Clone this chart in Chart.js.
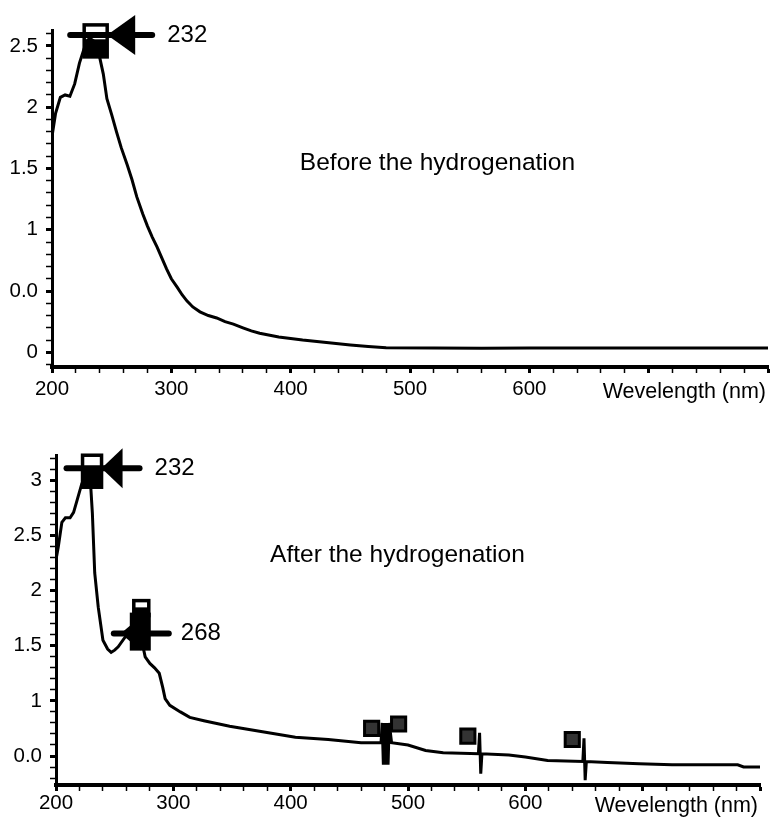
<!DOCTYPE html>
<html>
<head>
<meta charset="utf-8">
<script src="https://cdn.jsdelivr.net/npm/chart.js@4.4.1/dist/chart.umd.min.js"></script>
<style>
    html, body { margin: 0; padding: 0; background: #fff; }
    #top { position: relative; width: 773px; height: 405px; }
    #bottom { position: relative; width: 773px; height: 414px; }
</style>
</head>
<body>
<div id="top"><canvas id="beforeChart"></canvas></div>
<div id="bottom"><canvas id="afterChart"></canvas></div>
<script>
// Spectre avant l'hydrogenation (longueur d'onde en nm, absorbance)
const beforeNm  = [200, 203, 207, 211, 215, 219, 223, 227, 230, 232, 235, 239, 243, 246, 250, 254, 258, 263, 267, 271,
                   276, 280, 284, 288, 292, 296, 300, 305, 309, 313, 318, 324, 331, 338, 345, 352, 360, 367, 374, 390,
                   410, 430, 450, 465, 480, 520, 560, 600, 650, 700, 750, 800];
const beforeAbs = [1.76, 1.95, 2.08, 2.10, 2.09, 2.19, 2.36, 2.48, 2.55, 2.56, 2.54, 2.45, 2.27, 2.07, 1.94, 1.80, 1.67, 1.53, 1.41, 1.27,
                   1.13, 1.03, 0.94, 0.86, 0.77, 0.68, 0.60, 0.53, 0.47, 0.42, 0.37, 0.33, 0.30, 0.28, 0.25, 0.23, 0.20, 0.175, 0.155, 0.125,
                   0.10, 0.08, 0.06, 0.047, 0.037, 0.035, 0.033, 0.035, 0.035, 0.035, 0.035, 0.035];

// Spectre apres l'hydrogenation
const afterNm  = [200, 202, 205, 208, 212, 215, 218, 222, 226, 229, 231, 233, 236, 240, 244, 247, 250, 253, 259, 264,
                  269, 273, 276, 280, 284, 288, 291, 293, 297, 306, 314, 326, 348, 376, 404, 432, 460, 473, 477, 478,
                  479, 480, 481, 482, 483, 484, 486, 500, 515, 530, 560, 561, 562, 563, 586, 600, 619, 649, 650, 651,
                  652, 670, 697, 725, 781, 786, 800];
const afterAbs = [2.28, 2.40, 2.62, 2.66, 2.66, 2.71, 2.82, 2.97, 3.06, 3.05, 2.70, 2.16, 1.85, 1.55, 1.47, 1.44, 1.46, 1.49, 1.58, 1.63,
                  1.65, 1.55, 1.40, 1.34, 1.30, 1.25, 1.12, 1.02, 0.96, 0.90, 0.85, 0.82, 0.77, 0.72, 0.67, 0.65, 0.62, 0.62, 0.62, 0.80,
                  0.42, 0.80, 0.42, 0.80, 0.42, 0.80, 0.62, 0.60, 0.55, 0.53, 0.52, 0.71, 0.34, 0.52, 0.51, 0.49, 0.46, 0.45, 0.66, 0.28,
                  0.45, 0.44, 0.43, 0.42, 0.42, 0.40, 0.40];

// petits marqueurs parasites du spectrometre
const afterMarkNm  = [469, 492, 551, 640];
const afterMarkAbs = [0.75, 0.79, 0.68, 0.65];

// pics annotes
const beforePeakNm   = [232];
const beforePeakAbs  = [2.59];
const beforePeakText = ['232'];
const afterPeakNm    = [232, 268];
const afterPeakAbs   = [3.11, 1.61];
const afterPeakText  = ['232', '268'];

// graduations
const xTickText   = [200, 300, 400, 500, 600];
const yTickValues = [0, 0.5, 1, 1.5, 2, 2.5, 3];
const yTickText   = ['0', '0.0', '1', '1.5', '2', '2.5', '3'];

const FONT = "'Liberation Sans', Arial, Helvetica, sans-serif";
Chart.defaults.font.family = FONT;
Chart.defaults.color = '#000';

function toPoints(xs, ys) {
    return xs.map((x, i) => ({ x: x, y: ys[i] }));
}

// dessine les fleches, les boites de pic et les textes
const peakMarks = {
    id: 'peakMarks',
    afterDatasetsDraw(chart, args, opts) {
        const { ctx, chartArea } = chart;
        const x = chart.scales.x, y = chart.scales.y;
        ctx.save();
        ctx.fillStyle = '#000';
        ctx.strokeStyle = '#000';
        opts.nm.forEach((nm, i) => {
            const s = opts.shapes[i];
            const px = x.getPixelForValue(nm);
            const py = y.getPixelForValue(opts.abs[i]);
            if (s.blob) {
                ctx.fillRect(px + s.blob[0], py + s.blob[2], s.blob[1] - s.blob[0], s.blob[3] - s.blob[2]);
            }
            // boite du pic, a moitie noircie
            const bw = s.box[1] - s.box[0], bh = s.box[3] - s.box[2];
            ctx.fillRect(px + s.box[0], py + s.box[2] + bh * 0.45, bw, bh * 0.55);
            ctx.lineWidth = 3.5;
            ctx.strokeRect(px + s.box[0], py + s.box[2], bw, bh);
            ctx.lineWidth = 6;
            ctx.lineCap = 'round';
            ctx.beginPath();
            ctx.moveTo(px + s.bar[0], py);
            ctx.lineTo(px + s.bar[1], py);
            ctx.stroke();
            ctx.beginPath();
            ctx.moveTo(px + s.head[0], py);
            ctx.lineTo(px + s.head[1], py - s.head[2]);
            ctx.lineTo(px + s.head[1], py + s.head[2]);
            ctx.closePath();
            ctx.fill();
            ctx.font = '24px ' + FONT;
            ctx.textAlign = 'left';
            ctx.textBaseline = 'middle';
            ctx.fillText(opts.text[i], px + s.text, py);
        });
        // titre du spectre
        ctx.font = '24.5px ' + FONT;
        ctx.textAlign = 'center';
        ctx.fillText(opts.caption, x.getPixelForValue(opts.captionAt[0]), y.getPixelForValue(opts.captionAt[1]));
        // nom de l'axe x
        ctx.font = '21.5px ' + FONT;
        ctx.textAlign = 'right';
        ctx.fillText('Wevelength (nm)', chartArea.right - 2, chartArea.bottom + opts.axisTitleDy);
        ctx.restore();
    }
};

function makeChart(canvasId, cfg) {
    const datasets = [{
        data: toPoints(cfg.nm, cfg.abs),
        borderColor: '#000',
        borderWidth: 3,
        pointRadius: 0,
        tension: 0
    }];
    if (cfg.markNm) {
        datasets.push({
            data: toPoints(cfg.markNm, cfg.markAbs),
            showLine: false,
            pointStyle: 'rect',
            pointRadius: 10,
            borderColor: '#000',
            borderWidth: 3,
            backgroundColor: '#333'
        });
    }
    return new Chart(document.getElementById(canvasId), {
        type: 'line',
        data: { datasets: datasets },
        plugins: [peakMarks],
        options: {
            responsive: true,
            maintainAspectRatio: false,
            animation: false,
            layout: { padding: { top: cfg.padTop, right: cfg.padRight, left: 0, bottom: 0 } },
            plugins: {
                legend: { display: false },
                tooltip: { enabled: false },
                peakMarks: {
                    nm: cfg.peakNm, abs: cfg.peakAbs, text: cfg.peakText, shapes: cfg.shapes,
                    caption: cfg.caption, captionAt: cfg.captionAt, axisTitleDy: cfg.axisTitleDy
                }
            },
            scales: {
                x: {
                    type: 'linear',
                    min: 200,
                    max: 800,
                    afterFit: s => { s.height = cfg.xHeight; },
                    border: { color: '#000', width: 4 },
                    grid: {
                        drawOnChartArea: false,
                        tickLength: 6,
                        tickColor: '#000',
                        tickWidth: c => (c.tick && c.tick.value % 100 === 0) ? 3 : 1.5
                    },
                    ticks: {
                        stepSize: 20,
                        autoSkip: false,
                        maxRotation: 0,
                        padding: cfg.xPad,
                        font: { size: 20.5 },
                        callback: v => xTickText.includes(v) ? String(v) : ''
                    }
                },
                y: {
                    min: cfg.yMin,
                    max: cfg.yMax,
                    afterFit: s => { s.width = cfg.yWidth; },
                    border: { color: '#000', width: 3 },
                    grid: {
                        drawOnChartArea: false,
                        tickLength: 6,
                        tickColor: '#000',
                        tickWidth: c => (c.tick && Math.round(c.tick.value * 10) % 5 === 0) ? 3 : 1.5
                    },
                    ticks: {
                        stepSize: 0.1,
                        includeBounds: false,
                        autoSkip: false,
                        padding: 8,
                        font: { size: 20.5 },
                        callback: v => {
                            const k = yTickValues.findIndex(t => Math.abs(t - v) < 1e-6);
                            return k >= 0 ? yTickText[k] : '';
                        }
                    }
                }
            }
        }
    });
}

makeChart('beforeChart', {
    nm: beforeNm, abs: beforeAbs,
    peakNm: beforePeakNm, peakAbs: beforePeakAbs, peakText: beforePeakText,
    shapes: [{ bar: [-20, 62], head: [17, 45, 20], box: [-6, 17, -10, 22], text: 77 }],
    caption: 'Before the hydrogenation', captionAt: [523, 1.54],
    yMin: -0.12, yMax: 2.63, yWidth: 52, xHeight: 38, xPad: 4,
    padTop: 30, padRight: 5, axisTitleDy: 25
});

makeChart('afterChart', {
    nm: afterNm, abs: afterAbs, markNm: afterMarkNm, markAbs: afterMarkAbs,
    peakNm: afterPeakNm, peakAbs: afterPeakAbs, peakText: afterPeakText,
    shapes: [
        { bar: [-27, 46], head: [8, 29, 20], box: [-11, 8, -13, 19], text: 61 },
        { bar: [-22, 33], head: [-15, 5, 17], box: [-2, 13, -33, -18], blob: [-6, 15, -21, 17], text: 45 }
    ],
    caption: 'After the hydrogenation', captionAt: [491, 2.32],
    yMin: 0.237, yMax: 3.23, yWidth: 56, xHeight: 34, xPad: 0,
    padTop: 50, padRight: 2, axisTitleDy: 21
});
</script>
</body>
</html>
